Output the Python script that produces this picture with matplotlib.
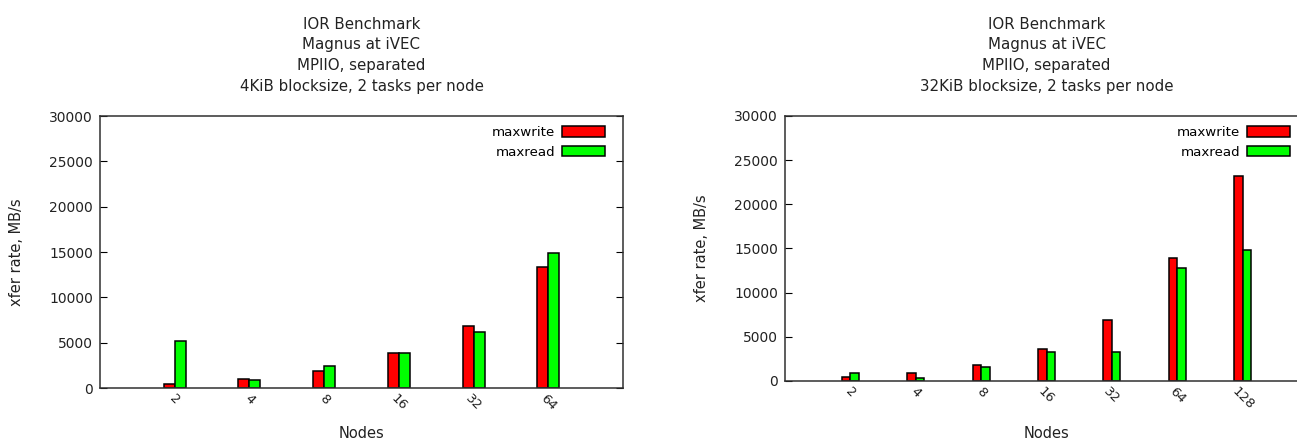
import numpy as np
from matplotlib import pyplot as plt

# IOR benchmark results
nodes_4k = ['2', '4', '8', '16', '32', '64']
write_4k = [400, 1000, 1840, 3820, 6840, 13350]
read_4k = [5180, 850, 2430, 3820, 6140, 14890]

nodes_32k = ['2', '4', '8', '16', '32', '64', '128']
write_32k = [490, 900, 1770, 3570, 6920, 13950, 23200]
read_32k = [900, 340, 1620, 3230, 3230, 12780, 14810]

titles = ["IOR Benchmark\nMagnus at iVEC\nMPIIO, separated\n4KiB blocksize, 2 tasks per node",
          "IOR Benchmark\nMagnus at iVEC\nMPIIO, separated\n32KiB blocksize, 2 tasks per node"]

W, H = 1297, 441
TXT = '#222222'

plt.rcParams['font.family'] = 'DejaVu Sans'
plt.rcParams['font.size'] = 10

fig = plt.figure(figsize=(W / 100, H / 100), dpi=100)


def panel(rect, labels, wr, rd, width, title, xlab_y):
    ax = fig.add_axes([rect[0] / W, (H - rect[1] - rect[3]) / H, rect[2] / W, rect[3] / H])
    x = np.arange(len(labels))
    ax.bar(x - width / 2, wr, width, color='#ff0000', edgecolor='black', linewidth=1.1, label='maxwrite')
    ax.bar(x + width / 2, rd, width, color='#00ff00', edgecolor='black', linewidth=1.1, label='maxread')

    ax.set_xlim(-1, len(labels))
    ax.set_ylim(0, 30000)
    ax.set_yticks(range(0, 30001, 5000))
    ax.set_xticks(x)
    ax.set_xticklabels(labels, rotation=-45, ha='center', va='top', color=TXT, fontsize=9.5)
    ax.tick_params(axis='x', length=0, pad=3)
    ax.tick_params(axis='y', direction='in', length=5, right=True, pad=5, labelcolor=TXT,
                   width=0.8, labelsize=10)
    for sp in ax.spines.values():
        sp.set_linewidth(1.1)
        sp.set_color('#303030')

    ax.set_ylabel('xfer rate, MB/s', color=TXT, fontsize=10.5)
    ax.yaxis.set_label_coords(-0.145, 0.5)
    ax.set_xlabel('Nodes', color=TXT, fontsize=10.5)
    ax.xaxis.set_label_coords(0.5, xlab_y)
    ax.set_title(title, pad=18, linespacing=1.48, color=TXT, fontsize=10.8)

    ax.legend(loc='upper right', bbox_to_anchor=(1 - 18 / 523, 1 - 10 / rect[3]),
              borderaxespad=0, borderpad=0, frameon=False, markerfirst=False,
              fontsize=9.6, handlelength=3.2, handleheight=0.85, handletextpad=0.55,
              labelspacing=0.5)
    return ax


panel((100, 116, 523, 272), nodes_4k, write_4k, read_4k, 0.147, titles[0], -0.14)
panel((785, 116, 523, 265), nodes_32k, write_32k, read_32k, 0.13, titles[1], -0.17)

plt.savefig('out.png', dpi=100)
